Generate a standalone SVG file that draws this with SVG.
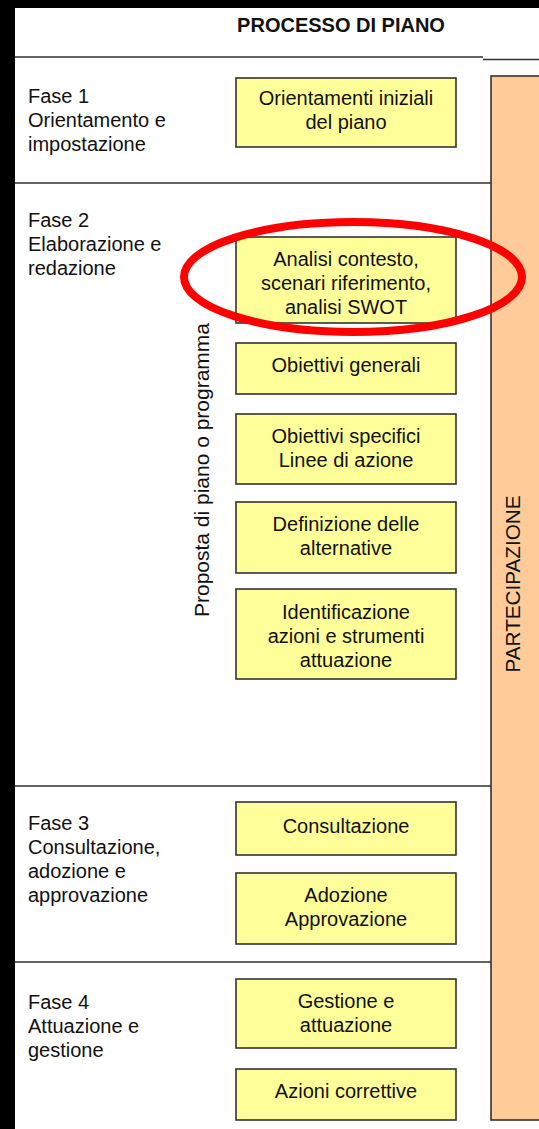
<svg xmlns="http://www.w3.org/2000/svg" width="539" height="1129" viewBox="0 0 539 1129">
<style>
text{font-family:"Liberation Sans",Arial,sans-serif;font-size:20px;fill:#111}
.c{text-anchor:middle}
.box{fill:#FFFF99;stroke:#333;stroke-width:1.6}
.sep{stroke:#333;stroke-width:1.6;fill:none}
</style>
<rect x="0" y="0" width="539" height="1129" fill="#000"/>
<rect x="15" y="8" width="524" height="1121" fill="#fff"/>
<text class="c" x="341" y="32" font-weight="bold">PROCESSO DI PIANO</text>
<g id="separators">
<path class="sep" d="M15 57H483M483 59.5H539"/>
<path class="sep" d="M15 183H491M15 786H491M15 962H491"/>
</g>
<g id="partecipazione">
<rect x="491" y="76" width="60" height="1044" fill="#FFCC99" stroke="#333" stroke-width="1.6"/>
<text class="c" transform="translate(520,584) rotate(-90)" textLength="177" lengthAdjust="spacingAndGlyphs">PARTECIPAZIONE</text>
</g>
<g id="fase1"><text x="28" y="103">Fase 1</text><text x="28" y="127">Orientamento e</text><text x="28" y="151">impostazione</text></g>
<g id="fase2"><text x="28" y="227">Fase 2</text><text x="28" y="251">Elaborazione e</text><text x="28" y="275">redazione</text></g>
<g id="fase3"><text x="28" y="830">Fase 3</text><text x="28" y="854">Consultazione,</text><text x="28" y="878">adozione e</text><text x="28" y="902">approvazione</text></g>
<g id="fase4"><text x="28" y="1009">Fase 4</text><text x="28" y="1033">Attuazione e</text><text x="28" y="1057">gestione</text></g>
<g id="proposta"><text class="c" transform="translate(209,470) rotate(-90)" textLength="294" lengthAdjust="spacingAndGlyphs">Proposta di piano o programma</text></g>
<g id="n1"><rect class="box" x="236" y="78" width="220" height="69"/><text class="c" x="346" y="105">Orientamenti iniziali</text><text class="c" x="346" y="129">del piano</text></g>
<g id="n2"><rect class="box" x="236" y="237" width="220" height="86"/><text class="c" x="346" y="266">Analisi contesto,</text><text class="c" x="346" y="290">scenari riferimento,</text><text class="c" x="346" y="314">analisi SWOT</text></g>
<g id="n3"><rect class="box" x="236" y="343" width="220" height="51"/><text class="c" x="346" y="372">Obiettivi generali</text></g>
<g id="n4"><rect class="box" x="236" y="414" width="220" height="70"/><text class="c" x="346" y="443">Obiettivi specifici</text><text class="c" x="346" y="467">Linee di azione</text></g>
<g id="n5"><rect class="box" x="236" y="502" width="220" height="71"/><text class="c" x="346" y="531">Definizione delle</text><text class="c" x="346" y="555">alternative</text></g>
<g id="n6"><rect class="box" x="236" y="589" width="220" height="90"/><text class="c" x="346" y="619">Identificazione</text><text class="c" x="346" y="643">azioni e strumenti</text><text class="c" x="346" y="667">attuazione</text></g>
<g id="n7"><rect class="box" x="236" y="802" width="220" height="53"/><text class="c" x="346" y="833">Consultazione</text></g>
<g id="n8"><rect class="box" x="236" y="873" width="220" height="71"/><text class="c" x="346" y="902">Adozione</text><text class="c" x="346" y="926">Approvazione</text></g>
<g id="n9"><rect class="box" x="236" y="979" width="220" height="69"/><text class="c" x="346" y="1008">Gestione e</text><text class="c" x="346" y="1032">attuazione</text></g>
<g id="n10"><rect class="box" x="236" y="1069" width="220" height="51"/><text class="c" x="346" y="1098">Azioni correttive</text></g>
<g id="highlight"><ellipse cx="353" cy="277" rx="169" ry="55" fill="none" stroke="#ff0000" stroke-width="8"/></g>
</svg>
